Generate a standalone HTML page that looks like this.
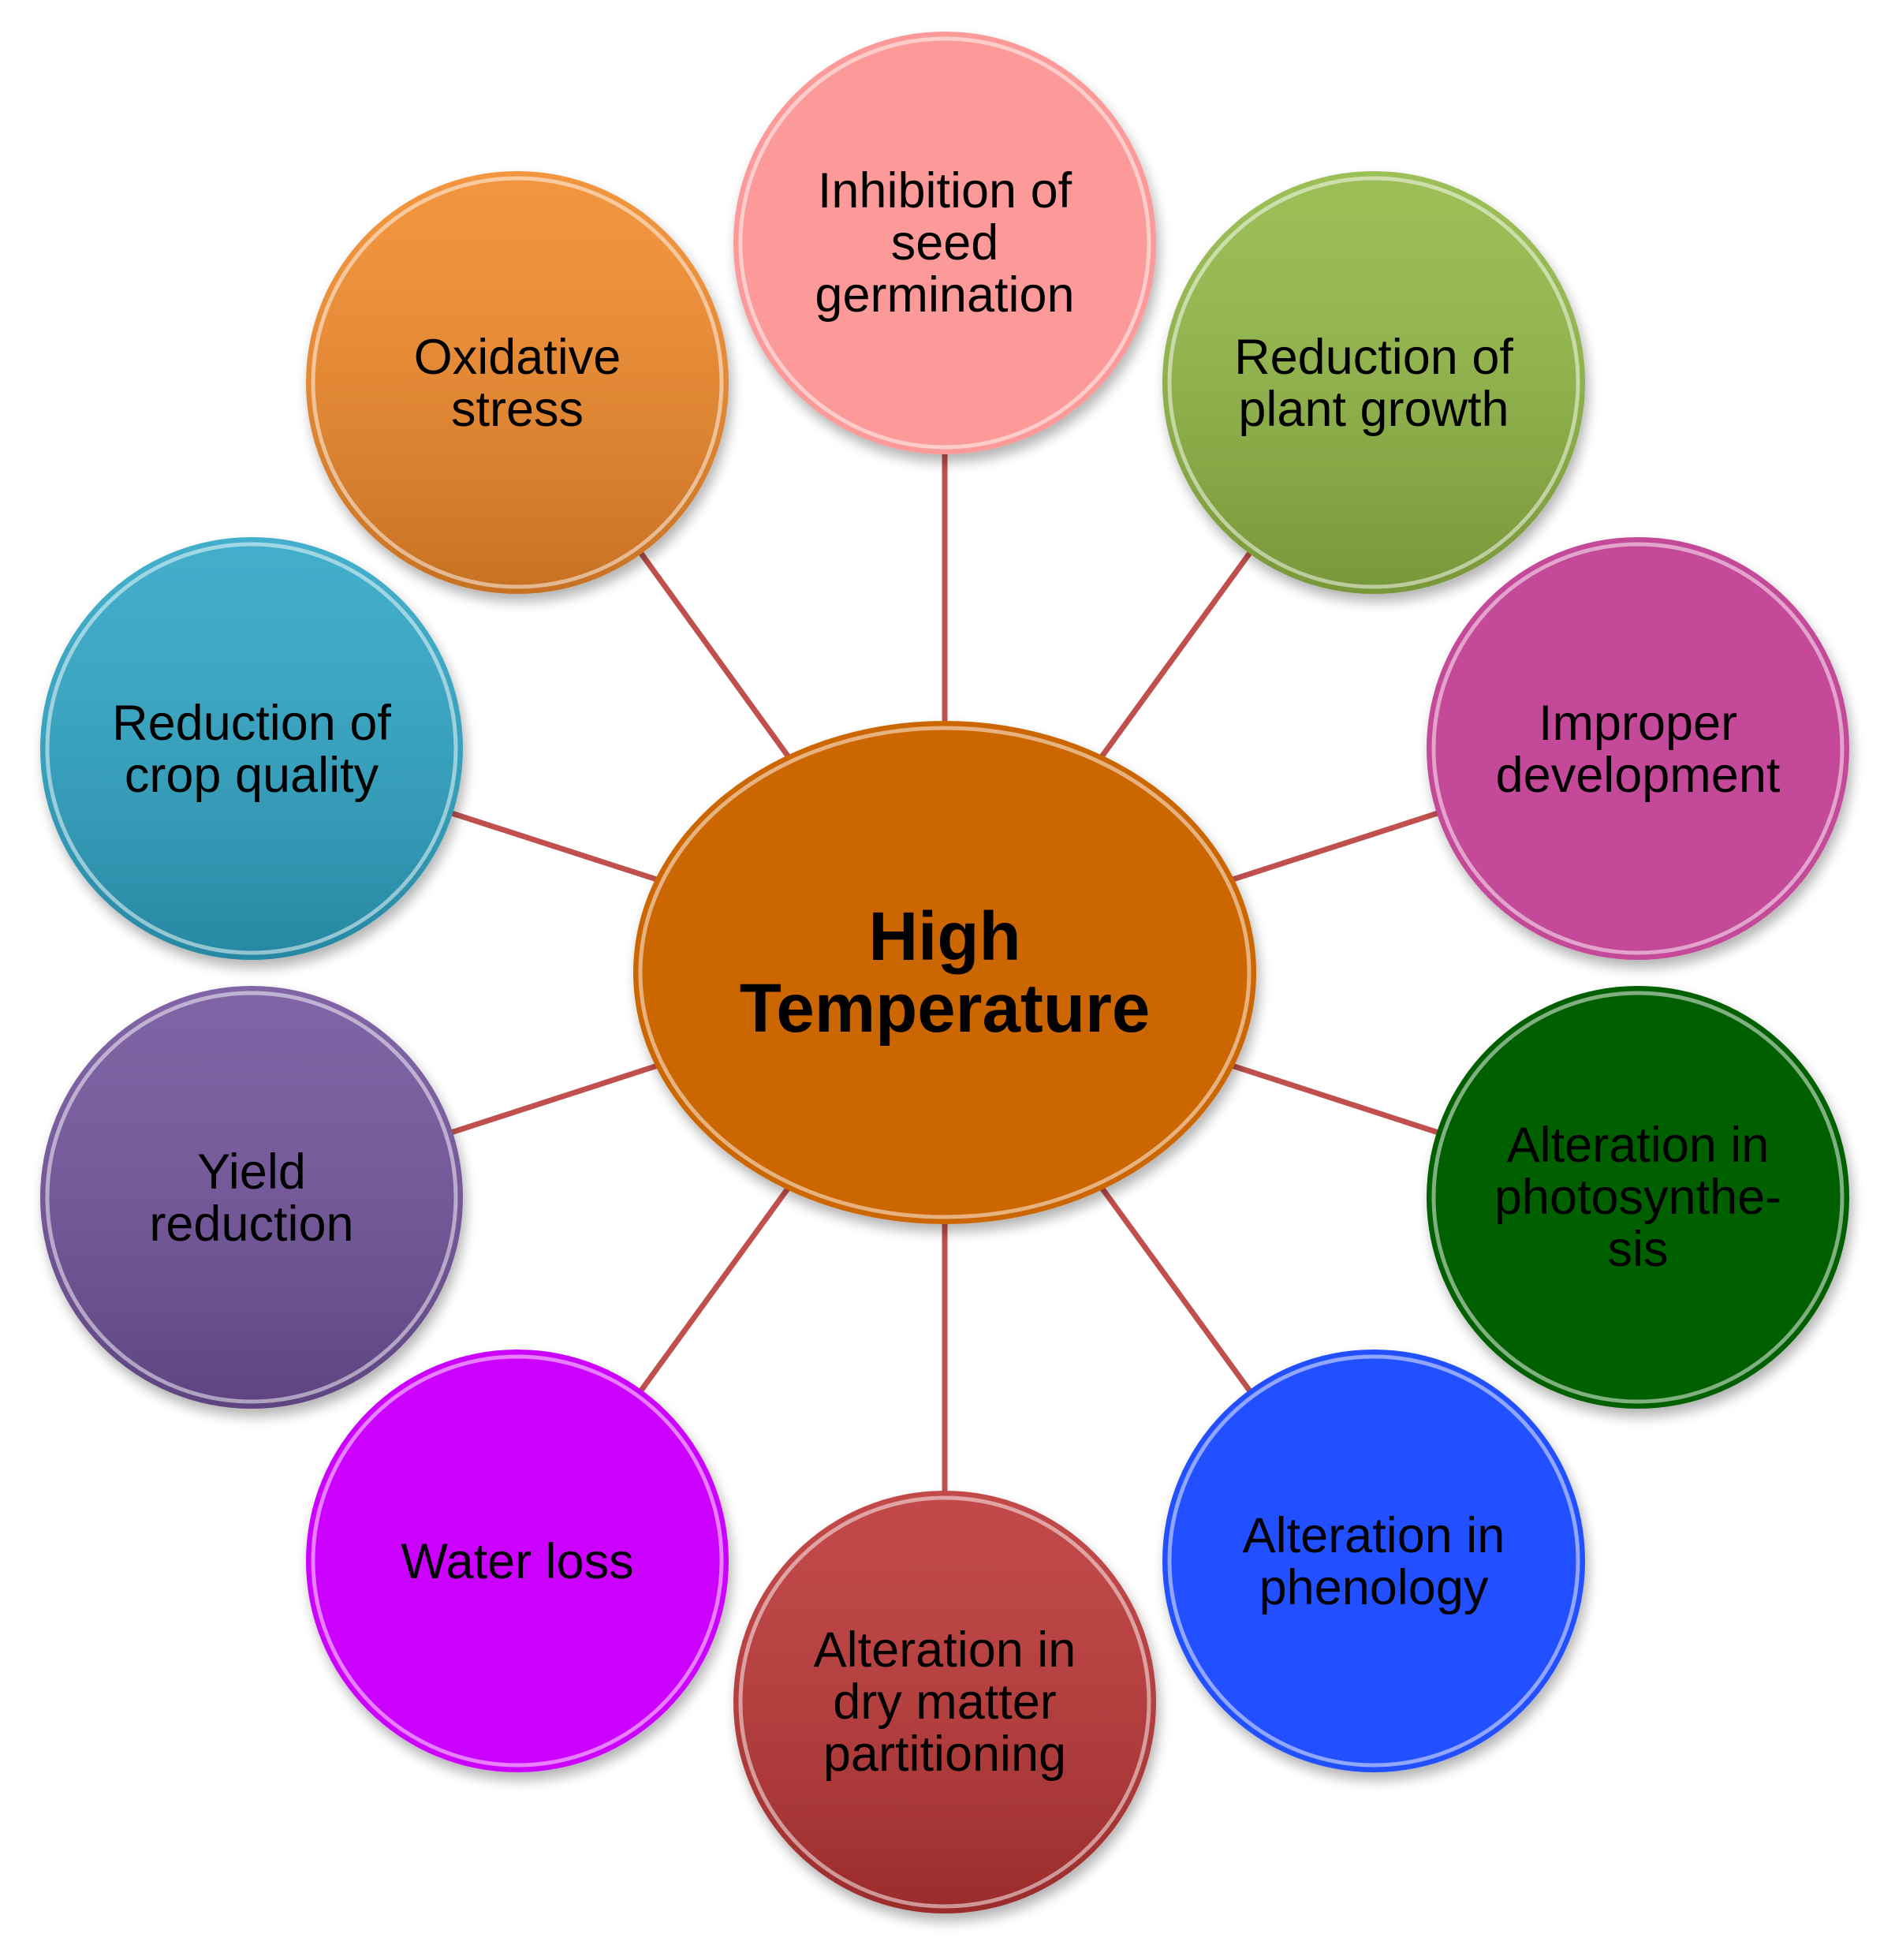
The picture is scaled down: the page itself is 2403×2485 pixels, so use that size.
<!DOCTYPE html>
<html><head><meta charset="utf-8"><style>
html,body{margin:0;padding:0;background:#fff}
svg{display:block}
text{font-family:"Liberation Sans",Arial,sans-serif;fill:#000}
</style></head><body>
<svg width="2403" height="2485" viewBox="0 0 2403 2485" xmlns="http://www.w3.org/2000/svg">
<defs>
<linearGradient id="shade" x1="0" y1="0" x2="0" y2="1">
<stop offset="0" stop-color="#fff" stop-opacity="0.1"/>
<stop offset="1" stop-color="#000" stop-opacity="0.18"/>
</linearGradient>
<filter id="sh" x="-20%" y="-20%" width="140%" height="140%">
<feGaussianBlur in="SourceAlpha" stdDeviation="8"/>
<feOffset dx="4" dy="10"/>
<feComponentTransfer><feFuncA type="linear" slope="0.3"/></feComponentTransfer>
<feMerge><feMergeNode/><feMergeNode in="SourceGraphic"/></feMerge>
</filter>
</defs>
<g stroke="#c0504d" stroke-width="7">
<line x1="1198" y1="1233" x2="1198" y2="308"/>
<line x1="1198" y1="1233" x2="656" y2="485"/>
<line x1="1198" y1="1233" x2="1742" y2="485"/>
<line x1="1198" y1="1233" x2="319" y2="949"/>
<line x1="1198" y1="1233" x2="2077" y2="949"/>
<line x1="1198" y1="1233" x2="319" y2="1518"/>
<line x1="1198" y1="1233" x2="2077" y2="1518"/>
<line x1="1198" y1="1233" x2="656" y2="1979"/>
<line x1="1198" y1="1233" x2="1742" y2="1979"/>
<line x1="1198" y1="1233" x2="1198" y2="2158"/>
</g>
<g filter="url(#sh)">
<circle cx="1198" cy="308" r="268" fill="#fb9a98"/>
<circle cx="656" cy="485" r="268" fill="#f28a2a"/>
<circle cx="1742" cy="485" r="268" fill="#92b844"/>
<circle cx="319" cy="949" r="268" fill="#2fa6c6"/>
<circle cx="2077" cy="949" r="268" fill="#c44898"/>
<circle cx="319" cy="1518" r="268" fill="#72529c"/>
<circle cx="2077" cy="1518" r="268" fill="#066006"/>
<circle cx="656" cy="1979" r="268" fill="#cc00ff"/>
<circle cx="1742" cy="1979" r="268" fill="#2050ff"/>
<circle cx="1198" cy="2158" r="268" fill="#bc3636"/>
<ellipse cx="1198" cy="1233" rx="395" ry="319" fill="#cc6600"/>
</g>
<g fill="url(#shade)">
<circle cx="656" cy="485" r="268"/>
<circle cx="1742" cy="485" r="268"/>
<circle cx="319" cy="949" r="268"/>
<circle cx="319" cy="1518" r="268"/>
<circle cx="1198" cy="2158" r="268"/>
</g>
<g fill="none" stroke="#fff" stroke-opacity="0.5" stroke-width="5">
<circle cx="1198" cy="308" r="259"/>
<circle cx="656" cy="485" r="259"/>
<circle cx="1742" cy="485" r="259"/>
<circle cx="319" cy="949" r="259"/>
<circle cx="2077" cy="949" r="259"/>
<circle cx="319" cy="1518" r="259"/>
<circle cx="2077" cy="1518" r="259"/>
<circle cx="656" cy="1979" r="259"/>
<circle cx="1742" cy="1979" r="259"/>
<circle cx="1198" cy="2158" r="259"/>
<ellipse cx="1198" cy="1233" rx="386" ry="310"/>
</g>
<g font-size="63" text-anchor="middle">
<text x="1198" y="263">Inhibition of</text>
<text x="1198" y="329">seed</text>
<text x="1198" y="395">germination</text>
<text x="656" y="474">Oxidative</text>
<text x="656" y="540">stress</text>
<text x="1742" y="474">Reduction of</text>
<text x="1742" y="540">plant growth</text>
<text x="319" y="938">Reduction of</text>
<text x="319" y="1004">crop quality</text>
<text x="2077" y="938">Improper</text>
<text x="2077" y="1004">development</text>
<text x="319" y="1507">Yield</text>
<text x="319" y="1573">reduction</text>
<text x="2077" y="1473">Alteration in</text>
<text x="2077" y="1539">photosynthe-</text>
<text x="2077" y="1605">sis</text>
<text x="656" y="2001">Water loss</text>
<text x="1742" y="1968">Alteration in</text>
<text x="1742" y="2034">phenology</text>
<text x="1198" y="2113">Alteration in</text>
<text x="1198" y="2179">dry matter</text>
<text x="1198" y="2245">partitioning</text>
</g>
<g font-size="87" font-weight="bold" text-anchor="middle">
<text x="1198" y="1217">High</text>
<text x="1198" y="1308">Temperature</text>
</g>
</svg>
</body></html>
